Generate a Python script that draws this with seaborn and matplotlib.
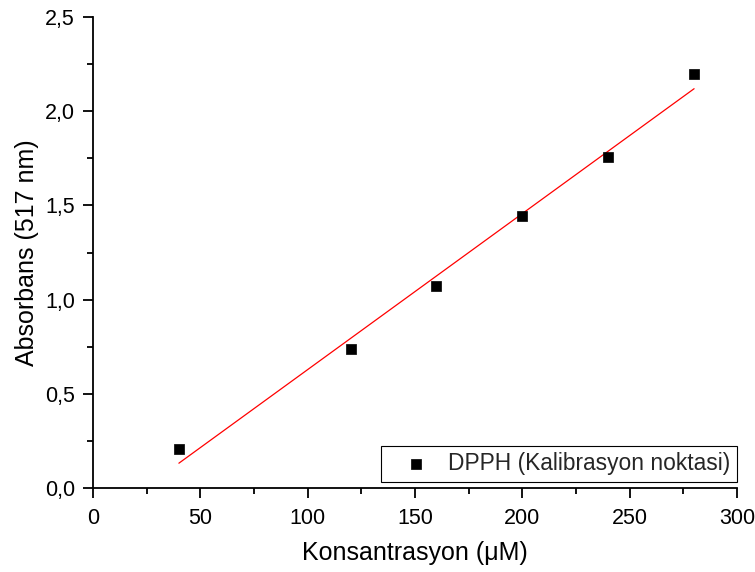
import numpy as np
import pandas as pd
import seaborn as sns
import matplotlib
matplotlib.use("Agg")
import matplotlib.pyplot as plt
from matplotlib.ticker import MultipleLocator, FuncFormatter

konsantrasyon = [40, 120, 160, 200, 240, 280]
absorbans = [0.206, 0.739, 1.073, 1.444, 1.757, 2.197]
seri_adi = "DPPH (Kalibrasyon noktasi)"
x_etiket = "Konsantrasyon (\u03bcM)"
y_etiket = "Absorbans (517 nm)"

sns.set_theme(style="ticks")
plt.rcParams['font.family'] = ['Liberation Sans', 'DejaVu Sans']

df = pd.DataFrame({"x": konsantrasyon, "y": absorbans})

fig = plt.figure(figsize=(7.55, 5.72), dpi=100)
ax = fig.add_axes([0.1232, 0.1463, 0.8530, 0.8245])

sns.regplot(data=df, x="x", y="y", ax=ax, ci=None, scatter=False,
            line_kws=dict(color="red", lw=0.9))
sns.scatterplot(data=df, x="x", y="y", ax=ax, marker="s", s=55,
                color="black", edgecolor="black", linewidth=0.5,
                label=seri_adi, zorder=5)

ax.set_xlim(0, 300)
ax.set_ylim(0, 2.5)
ax.xaxis.set_major_locator(MultipleLocator(50))
ax.xaxis.set_minor_locator(MultipleLocator(25))
ax.yaxis.set_major_locator(MultipleLocator(0.5))
ax.yaxis.set_minor_locator(MultipleLocator(0.25))
ax.yaxis.set_major_formatter(FuncFormatter(lambda v, p: f"{v:.1f}".replace(".", ",")))

for s in ["top", "right"]:
    ax.spines[s].set_visible(False)
for s in ["left", "bottom"]:
    ax.spines[s].set_linewidth(1.3)
    ax.spines[s].set_color("black")

ax.tick_params(which="major", direction="out", length=7, width=1.3,
               labelsize=15.5, colors="black")
ax.tick_params(axis="x", which="major", pad=7)
ax.tick_params(axis="y", which="major", pad=6)
ax.tick_params(which="minor", direction="out", length=4, width=1.3, colors="black")

ax.set_xlabel(x_etiket, fontsize=18, color="black", labelpad=9)
ax.set_ylabel(y_etiket, fontsize=18, color="black", labelpad=4)

leg = ax.legend(loc="lower right", fontsize=16.4, frameon=True, fancybox=False,
                edgecolor="black", framealpha=1, borderpad=0.3,
                handletextpad=0.15, handlelength=2.5, borderaxespad=0.0,
                bbox_to_anchor=(1.0, 0.013), markerscale=0.9)
leg.get_frame().set_linewidth(0.8)

fig.savefig("out.png", dpi=100)
